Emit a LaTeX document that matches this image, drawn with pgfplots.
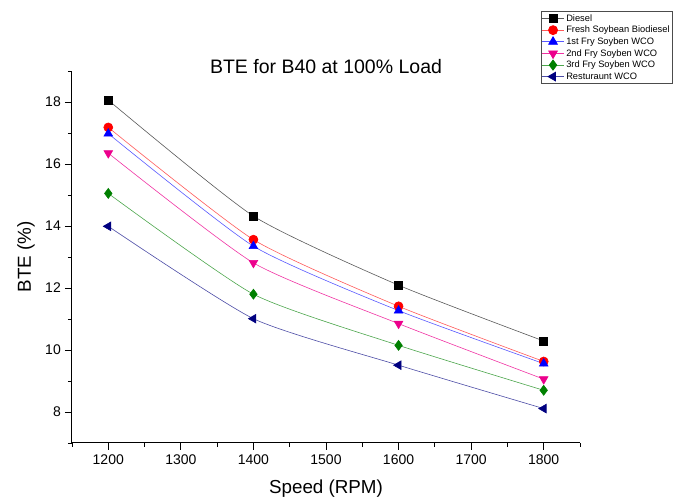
\documentclass[border=0pt]{standalone}
\usepackage{pgfplots}
\pgfplotsset{compat=1.18}
\usepackage{fontspec}
\setmainfont{Liberation Sans}
\begin{document}
\begin{tikzpicture}
\useasboundingbox (0,0) rectangle (673pt,503pt);
\begin{axis}[
  at={(72pt,60pt)}, anchor=south west,
  width=508pt, height=372pt, scale only axis,
  xmin=1150, xmax=1850, ymin=7, ymax=19,
  axis x line*=bottom, axis y line*=left,
  axis line style={line width=1pt, -},
  tick align=outside,
  every minor tick/.append style={draw=black, line width=0.9pt},
  every major tick/.append style={draw=black, line width=0.9pt},
  clip=false,
  xtick={1200,1300,1400,1500,1600,1700,1800}, ytick={8,10,12,14,16,18},
  minor xtick={1150,1250,1350,1450,1550,1650,1750,1850},
  minor ytick={7,9,11,13,15,17,19},
  major tick length=7pt, minor tick length=4pt,
  /pgf/number format/assume math mode=true,
  /pgf/number format/1000 sep={},
  tick label style={font=\fontsize{14}{15}\selectfont, fill=none, inner sep=1pt},
  xticklabel style={yshift=-4pt},
  yticklabel style={xshift=-3pt},
  xlabel={Speed (RPM)}, ylabel={BTE (\%)},
  label style={font=\fontsize{18.8}{20}\selectfont},
  xlabel style={yshift=-10pt},
  ylabel style={yshift=6pt},
  title={BTE for B40 at 100\% Load},
  title style={font=\fontsize{19.5}{20}\selectfont, at={(0.5,1)}, anchor=center, yshift=-2pt},
  legend style={at={(1.183,1.161)}, anchor=north east, font=\fontsize{9.3}{10}\selectfont,
    draw=black!70, line width=0.6pt, inner sep=1pt, row sep=-0.6pt, legend cell align=left},
  legend image code/.code={\draw[mark repeat=2,mark phase=2] plot coordinates {(0cm,0cm) (0.38cm,0cm) (0.76cm,0cm)};},
  legend image post style={line width=0.8pt},
  every axis plot/.append style={line width=0.6pt, smooth, tension=0.35, mark size=4pt},
  after end axis/.code={
    \pgfplotsinvokeforeach{1200,1300,1400,1500,1600,1700,1800}{
      \draw[black, line width=0.9pt] (axis cs:##1,7) -- ++(0pt,-7pt);
    }
    \pgfplotsinvokeforeach{8,10,12,14,16,18}{
      \draw[black, line width=0.9pt] (axis cs:1150,##1) -- ++(-7pt,0pt);
    }
  },
]
\addplot[color=black!65, mark=square*, mark options={black, solid}] coordinates {(1200,18.06) (1400,14.32) (1600,12.09) (1800,10.29)};
\addlegendentry{Diesel}
\addplot[color=red!65, mark=*, mark options={red}, mark size=4.5pt] coordinates {(1200,17.18) (1400,13.56) (1600,11.41) (1800,9.63)};
\addlegendentry{Fresh Soybean Biodiesel}
\addplot[color=blue!65, mark=triangle*, mark options={blue}, mark size=5pt] coordinates {(1200,16.98) (1400,13.35) (1600,11.27) (1800,9.56)};
\addlegendentry{1st Fry Soyben WCO}
\addplot[color=magenta!80, mark=triangle*, mark options={magenta, rotate=180}, mark size=5pt] coordinates {(1200,16.35) (1400,12.81) (1600,10.85) (1800,9.06)};
\addlegendentry{2nd Fry Soyben WCO}
\addplot[color=green!50!black!70, mark=diamond*, mark options={green!50!black}, mark size=5pt] coordinates {(1200,15.05) (1400,11.80) (1600,10.15) (1800,8.70)};
\addlegendentry{3rd Fry Soyben WCO}
\addplot[color=blue!50!black!70, mark=triangle*, mark options={blue!50!black, rotate=90}, mark size=5pt] coordinates {(1200,13.99) (1400,11.01) (1600,9.51) (1800,8.11)};
\addlegendentry{Resturaunt WCO}
\end{axis}
\end{tikzpicture}
\end{document}
